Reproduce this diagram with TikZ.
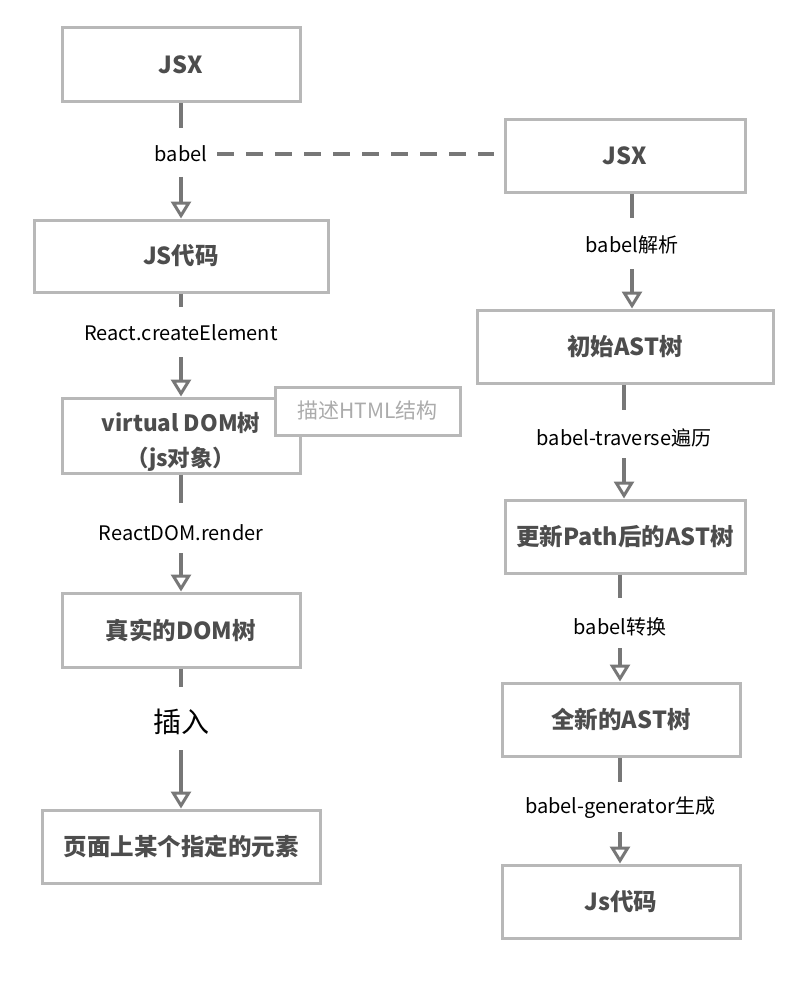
\documentclass[tikz,border=0pt]{standalone}
\usepackage{fontspec}
\setmainfont{Noto Sans CJK SC}
\usetikzlibrary{arrows.meta}
\definecolor{boxline}{HTML}{B8B8B8}
\definecolor{boxtext}{HTML}{4D4D4D}
\definecolor{connc}{HTML}{777777}
\definecolor{notetext}{HTML}{ABABAB}
\begin{document}
\begin{tikzpicture}[x=1pt,y=-1pt,
  box/.style={draw=boxline, line width=3pt, fill=white, font=\fontsize{23.5}{28}\selectfont\bfseries, text=boxtext, inner sep=0pt},
  lbl/.style={font=\fontsize{20}{24}\selectfont, text=black, inner sep=0pt},
  link/.style={draw=connc, line width=3.5pt},
  arr/.style={link, -{Triangle[open, length=17pt, width=20pt, line width=3pt]}},
  dashlink/.style={link, dash pattern=on 17pt off 12pt}]
\useasboundingbox (0,0) rectangle (800,987);
\fill[white] (0,0) rectangle (800,987);
% left column
\node[box, minimum width=238pt, minimum height=74pt] (l1) at (181,65) {JSX};
\node[box, minimum width=294pt, minimum height=72pt] (l2) at (181,256) {JS代码};
\node[box, minimum width=238pt, minimum height=75pt, align=center, font=\fontsize{22.5}{35}\selectfont\bfseries] (l3) at (181,435.5) {\rule{0pt}{31pt}virtual DOM树\\（js对象）};
\node[box, minimum width=185pt, minimum height=48pt, font=\fontsize{21}{25}\selectfont, text=notetext] (note) at (367.5,411) {描述HTML结构};
\node[box, minimum width=238pt, minimum height=74pt] (l4) at (181,630) {真实的DOM树};
\node[box, minimum width=278pt, minimum height=73pt] (l5) at (181,846.5) {页面上某个指定的元素};
% right column
\node[box, minimum width=240pt, minimum height=73pt] (r1) at (625,156) {JSX};
\node[box, minimum width=296pt, minimum height=73pt] (r2) at (625,346.5) {初始AST树};
\node[box, minimum width=240pt, minimum height=73pt] (r3) at (625,536.5) {更新Path后的AST树};
\node[box, minimum width=238pt, minimum height=73pt] (r4) at (621,719.5) {全新的AST树};
\node[box, minimum width=238pt, minimum height=73pt] (r5) at (621,901.5) {Js代码};
% labels
\node[lbl] (a1) at (181,154) {babel};
\node[lbl] (a2) at (181,333) {React.createElement};
\node[lbl] (a3) at (181,533) {ReactDOM.render};
\node[lbl, font=\fontsize{28}{32}\selectfont] (a4) at (181,722) {插入};
\node[lbl] (b1) at (632,245) {babel解析};
\node[lbl] (b2) at (624,438) {babel-traverse遍历};
\node[lbl] (b3) at (620,627) {babel转换};
\node[lbl] (b4) at (620,808) {babel-generator生成};
% left connectors
\draw[link, shorten >=26pt] (l1.south) -- (a1.center);
\draw[arr, shorten <=23pt] (a1.center) -- (l2.north);
\draw[link, shorten >=26pt] (l2.south) -- (a2.center);
\draw[arr, shorten <=24pt] (a2.center) -- (l3.north);
\draw[link, shorten >=30pt] (l3.south) -- (a3.center);
\draw[arr, shorten <=20pt] (a3.center) -- (l4.north);
\draw[link, shorten >=35pt] (l4.south) -- (a4.center);
\draw[arr, shorten <=28pt] (a4.center) -- (l5.north);
% dashed link
\draw[dashlink, shorten <=10pt, shorten >=10pt] (a1.east) -- (a1.east -| r1.west);
% right connectors
\draw[link, shorten >=27pt] (r1.south -| b1.center) -- (b1.center);
\draw[arr, shorten <=24pt] (b1.center) -- (b1.center |- r2.north);
\draw[link, shorten >=28pt] (r2.south -| b2.center) -- (b2.center);
\draw[arr, shorten <=20pt] (b2.center) -- (b2.center |- r3.north);
\draw[link, shorten >=29pt] (r3.south -| b3.center) -- (b3.center);
\draw[arr, shorten <=21pt] (b3.center) -- (b3.center |- r4.north);
\draw[link, shorten >=26pt] (r4.south -| b4.center) -- (b4.center);
\draw[arr, shorten <=24pt] (b4.center) -- (b4.center |- r5.north);
\end{tikzpicture}
\end{document}
